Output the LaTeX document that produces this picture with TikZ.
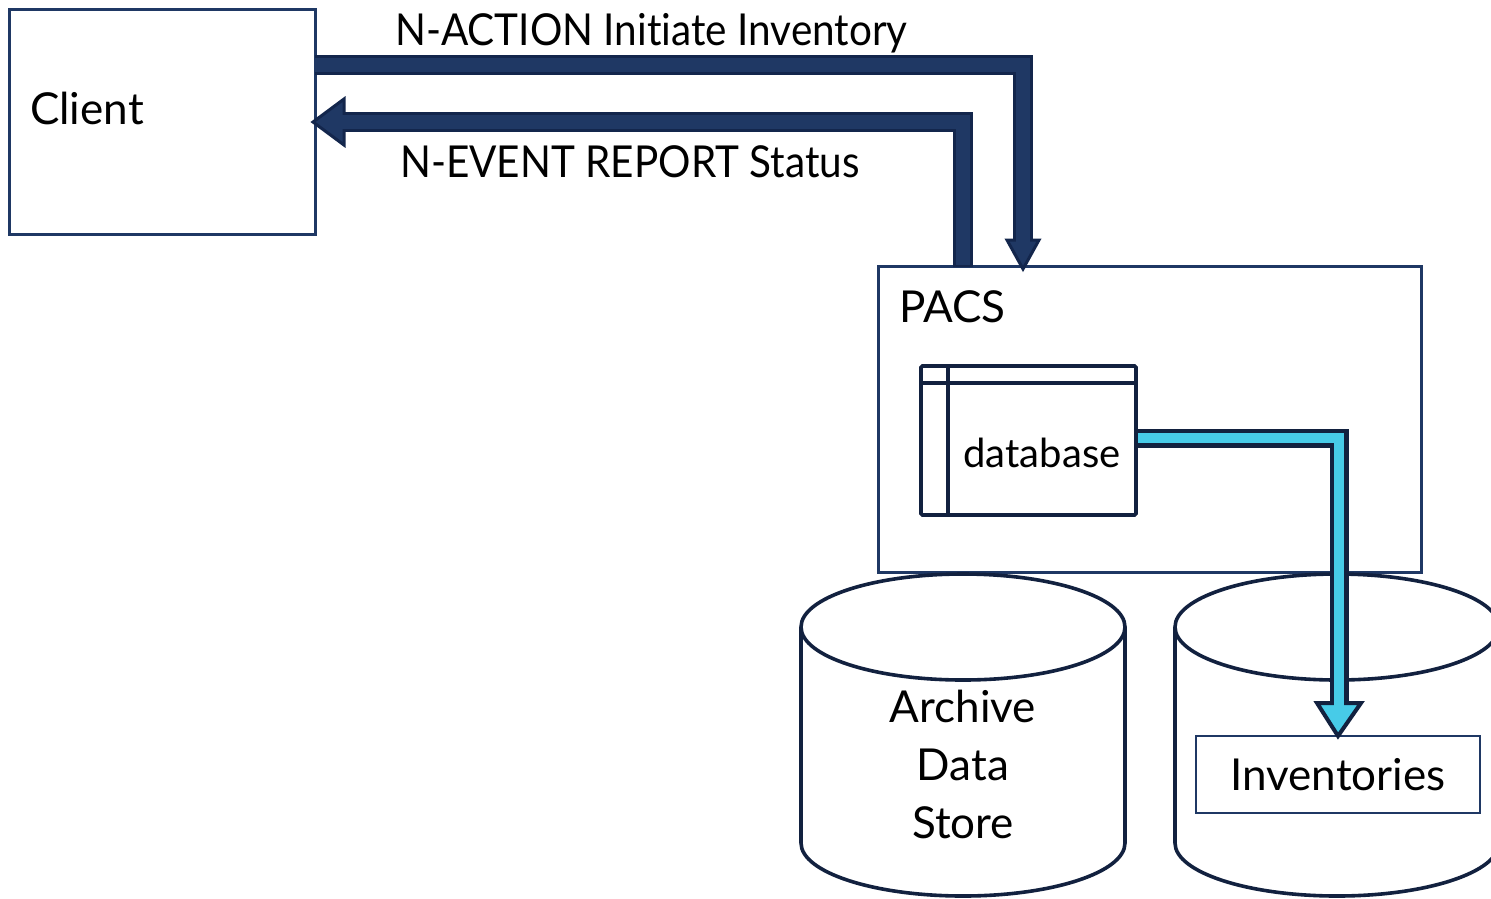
\documentclass[tikz,border=0pt]{standalone}
\usepackage{fontspec}
\setmainfont{Lato}[Ligatures=NoCommon]
\newfontfamily\narrowfont{Lato}[FakeStretch=0.92, Ligatures=NoCommon]
\usetikzlibrary{calc}

\definecolor{boxline}{HTML}{1F3864}
\definecolor{darkline}{HTML}{12213F}
\definecolor{bandfill}{HTML}{1F3864}
\definecolor{bandedge}{HTML}{13264C}
\definecolor{cyanfill}{HTML}{47CBE8}

\tikzset{
  box/.style={draw=boxline, line width=3pt, fill=white, inner sep=0pt, outer sep=0pt},
  dbbox/.style={draw=darkline, line width=3.8pt, fill=white, rounded corners=1.5pt, inner sep=0pt, outer sep=0pt},
  lbl/.style={font=\fontsize{44}{52}\selectfont, text=black, inner sep=0pt},
  msglbl/.style={lbl, font=\narrowfont\fontsize{44}{52}\selectfont},
  cyl/.style={draw=darkline, line width=3.6pt, fill=white},
  bandout/.style={draw=bandedge, line width=20pt},
  bandin/.style={draw=bandfill, line width=14pt},
  bandhead/.style={fill=bandfill, draw=bandedge, line width=3pt, line join=miter},
  cyanout/.style={draw=darkline, line width=19pt},
  cyanin/.style={draw=cyanfill, line width=10pt},
  cyanhead/.style={fill=cyanfill, draw=darkline, line width=4pt, line join=miter},
}

\begin{document}
\begin{tikzpicture}[x=1pt, y=-1pt]
\useasboundingbox (0,0) rectangle (1491,898);
\fill[white] (0,0) rectangle (1491,898);

% boxes
\node[box, minimum width=306, minimum height=225, anchor=north west] (client) at (9,9) {};
\node[lbl, anchor=base west] (clienttext) at (30,124) {Client};

\node[box, minimum width=543, minimum height=306, anchor=north west] (pacs) at (878,266) {};
\node[lbl, anchor=base west] (pacstext) at (899,322) {PACS};

% storage cylinders
\draw[cyl] (801,627) -- (801,843) arc[start angle=180, end angle=0, x radius=162, y radius=53] -- (1125,627);
\draw[cyl] (963,627) ellipse[x radius=162, y radius=53];
\node[lbl, align=center, font=\fontsize{44}{58}\selectfont] (archive) at (963,764) {Archive\\Data\\Store};

\draw[cyl] (1175,627) -- (1175,843) arc[start angle=180, end angle=0, x radius=162, y radius=53] -- (1499,627);
\draw[cyl] (1337,627) ellipse[x radius=162, y radius=53];

\node[box, line width=2pt, minimum width=284, minimum height=77, anchor=north west] (inv) at (1196,736) {};
\node[lbl] (invtext) at (inv.center) {Inventories};

% database icon
\node[dbbox, minimum width=215, minimum height=149, anchor=north west] (db) at (921,366) {};
\draw[darkline, line width=3.8pt] ($(db.north west)+(0,17)$) -- ($(db.north east)+(0,17)$);
\draw[darkline, line width=3.8pt] ($(db.north west)+(27,0)$) -- ($(db.south west)+(27,0)$);
\node[lbl, font=\fontsize{40}{48}\selectfont] (dbtext) at (1042,453) {database};

% N-ACTION: client -> PACS
\coordinate (actFrom) at ($(client.north east)+(0,56)$);
\coordinate (actTo) at ($(pacs.north west)+(145,3)$);
\draw[bandout] (actFrom) -| ($(actTo)+(0,-29)$);
\draw[bandhead] ($(actTo)+(-16,-29)$) -- (actTo) -- ($(actTo)+(16,-29)$) -- cycle;
\draw[bandin] ($(actFrom)+(0,0)$) -| ($(actTo)+(0,-25)$);
\node[msglbl, anchor=base west] (acttext) at (395,45) {N-ACTION Initiate Inventory};

% N-EVENT REPORT: PACS -> client
\coordinate (evtFrom) at ($(pacs.north west)+(85,1)$);
\coordinate (evtTo) at ($(client.north east)+(-2,113)$);
\draw[bandout] (evtFrom) |- ($(evtTo)+(31,0)$);
\draw[bandhead] ($(evtTo)+(31,-23)$) -- (evtTo) -- ($(evtTo)+(31,23)$) -- cycle;
\draw[bandin] ($(evtFrom)+(0,-2)$) |- ($(evtTo)+(27,0)$);
\node[msglbl, anchor=base west] (evttext) at (400,177) {N-EVENT REPORT Status};

% database -> inventories
\coordinate (dbFrom) at ($(db.north east)+(0,72)$);
\draw[cyanout] (dbFrom) -| ($(inv.north)+(1,-33)$);
\draw[cyanhead] ($(inv.north)+(-21,-33)$) -- (inv.north) -- ($(inv.north)+(23,-33)$) -- cycle;
\draw[cyanin] ($(dbFrom)+(2,0)$) -| ($(inv.north)+(1,-29)$);
\end{tikzpicture}
\end{document}
